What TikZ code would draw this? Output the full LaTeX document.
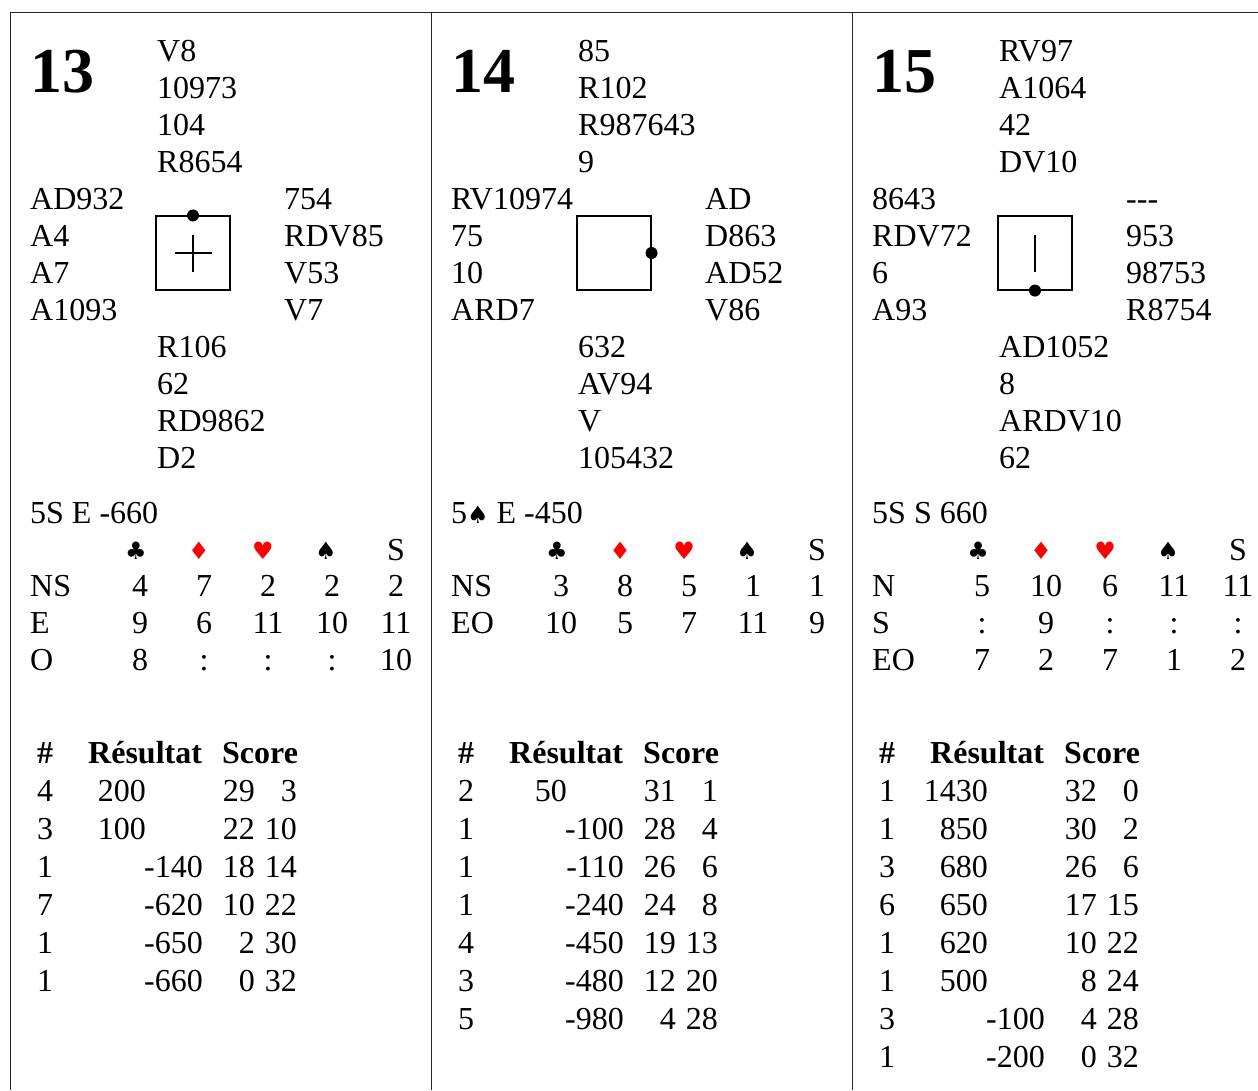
\documentclass[tikz,border=0pt]{standalone}
\usepackage{fontspec}
\setmainfont{Liberation Serif}
\newfontfamily\suitfont{DejaVu Sans}
\tikzset{
  txt/.style={anchor=base west, inner sep=0pt, font=\fontsize{32}{37}\selectfont},
  ctr/.style={anchor=base, inner sep=0pt, font=\fontsize{32}{37}\selectfont},
  rgt/.style={anchor=base east, inner sep=0pt, font=\fontsize{32}{37}\selectfont},
  hdr/.style={anchor=base west, inner sep=0pt, font=\bfseries\fontsize{32}{37}\selectfont},
  bignum/.style={anchor=base west, inner sep=0pt, font=\bfseries\fontsize{64}{64}\selectfont},
  suitf/.style={anchor=base, inner sep=0pt, font=\suitfont\fontsize{24}{24}\selectfont},
  vulbox/.style={draw, line width=1.1pt, minimum size=74pt, inner sep=0pt},
  frame/.style={line width=1pt, black!85},
  boxmark/.style={line width=1.1pt}
}
\newcommand\handlist[4]{\foreach \t [count=\i] in {#4} {\node[txt] (#1\i) at (#2,{#3+37*(\i-1)}) {\t};}}
\newcommand\distrow[8]{%
  \node[txt] (#1l) at (30,#2) {#3};
  \node[ctr] (#1a) at (140,#2) {#4};
  \node[ctr] (#1b) at (204,#2) {#5};
  \node[ctr] (#1c) at (268,#2) {#6};
  \node[ctr] (#1d) at (332,#2) {#7};
  \node[ctr] (#1e) at (396,#2) {#8};}
\newcommand\suitrow[1]{%
  \node[suitf] (#1sc) at (136,559) {♣};
  \node[suitf, text=red] (#1sd) at (199,559) {♦};
  \node[suitf, text=red] (#1sh) at (263,559) {♥};
  \node[suitf] (#1ss) at (326,559) {♠};
  \node[ctr] (#1nt) at (396,560) {S};}
\newcommand\reshead[1]{%
  \node[hdr] (#1h1) at (37,763) {\#};
  \node[hdr] (#1h2) at (88,763) {Résultat};
  \node[hdr] (#1h3) at (222,763) {Score};}
\newcommand\resrow[7]{%
  \node[txt] (#1n) at (37,#2) {#3};
  \node[rgt] (#1p) at (146,#2) {#4};
  \node[rgt] (#1m) at (203,#2) {#5};
  \node[rgt] (#1s) at (255,#2) {#6};
  \node[rgt] (#1t) at (297,#2) {#7};}
\begin{document}
\begin{tikzpicture}[x=1pt,y=-1pt]
\useasboundingbox (0,0) rectangle (1258,1090);
% frame
\coordinate (ftl) at (10,12);
\coordinate (ftr) at (1258,12);
\coordinate (fb1) at (10,1090);
\coordinate (ft2) at (431,12);
\coordinate (fb2) at (431,1090);
\coordinate (ft3) at (852,12);
\coordinate (fb3) at (852,1090);
\draw[frame] (fb1) -- (ftl) -- (ftr);
\draw[frame] (ft2) -- (fb2);
\draw[frame] (ft3) -- (fb3);

% ================= Panel 13
\begin{scope}
\node[bignum] (a13) at (30,92) {13};
\handlist{aN}{157}{61}{V8,10973,104,R8654}
\handlist{aW}{30}{209}{AD932,A4,A7,A1093}
\handlist{aE}{284}{209}{754,RDV85,V53,V7}
\handlist{aS}{157}{357}{R106,62,RD9862,D2}
\node[vulbox] (abox) at (193,253) {};
\fill (abox.north) circle (6pt);
\draw[boxmark] ([xshift=-18.5pt]abox.center) -- ([xshift=18.5pt]abox.center);
\draw[boxmark] ([yshift=-18.5pt]abox.center) -- ([yshift=18.5pt]abox.center);
\node[txt] (acon) at (30,523) {5S E -660};
\suitrow{a}
\distrow{ar1}{596}{NS}{4}{7}{2}{2}{2}
\distrow{ar2}{633}{E}{9}{6}{11}{10}{11}
\distrow{ar3}{670}{O}{8}{:}{:}{:}{10}
\reshead{a}
\resrow{ax1}{801}{4}{200}{}{29}{3}
\resrow{ax2}{839}{3}{100}{}{22}{10}
\resrow{ax3}{877}{1}{}{-140}{18}{14}
\resrow{ax4}{915}{7}{}{-620}{10}{22}
\resrow{ax5}{953}{1}{}{-650}{2}{30}
\resrow{ax6}{991}{1}{}{-660}{0}{32}
\end{scope}

% ================= Panel 14
\begin{scope}[xshift=421pt]
\node[bignum] (b14) at (30,92) {14};
\handlist{bN}{157}{61}{85,R102,R987643,9}
\handlist{bW}{30}{209}{RV10974,75,10,ARD7}
\handlist{bE}{284}{209}{AD,D863,AD52,V86}
\handlist{bS}{157}{357}{632,AV94,V,105432}
\node[vulbox] (bbox) at (193,253) {};
\fill (bbox.east) circle (6pt);
\node[txt] (bcon) at (30,523) {5{\suitfont\fontsize{24}{24}\selectfont ♠} E -450};
\suitrow{b}
\distrow{br1}{596}{NS}{3}{8}{5}{1}{1}
\distrow{br2}{633}{EO}{10}{5}{7}{11}{9}
\reshead{b}
\resrow{bx1}{801}{2}{50}{}{31}{1}
\resrow{bx2}{839}{1}{}{-100}{28}{4}
\resrow{bx3}{877}{1}{}{-110}{26}{6}
\resrow{bx4}{915}{1}{}{-240}{24}{8}
\resrow{bx5}{953}{4}{}{-450}{19}{13}
\resrow{bx6}{991}{3}{}{-480}{12}{20}
\resrow{bx7}{1029}{5}{}{-980}{4}{28}
\end{scope}

% ================= Panel 15
\begin{scope}[xshift=842pt]
\node[bignum] (c15) at (30,92) {15};
\handlist{cN}{157}{61}{RV97,A1064,42,DV10}
\handlist{cW}{30}{209}{8643,RDV72,6,A93}
\handlist{cE}{284}{209}{-{}-{}-,953,98753,R8754}
\handlist{cS}{157}{357}{AD1052,8,ARDV10,62}
\node[vulbox] (cbox) at (193,253) {};
\fill (cbox.south) circle (6pt);
\draw[boxmark] ([yshift=-18.5pt]cbox.center) -- ([yshift=18.5pt]cbox.center);
\node[txt] (ccon) at (30,523) {5S S 660};
\suitrow{c}
\distrow{cr1}{596}{N}{5}{10}{6}{11}{11}
\distrow{cr2}{633}{S}{:}{9}{:}{:}{:}
\distrow{cr3}{670}{EO}{7}{2}{7}{1}{2}
\reshead{c}
\resrow{cx1}{801}{1}{1430}{}{32}{0}
\resrow{cx2}{839}{1}{850}{}{30}{2}
\resrow{cx3}{877}{3}{680}{}{26}{6}
\resrow{cx4}{915}{6}{650}{}{17}{15}
\resrow{cx5}{953}{1}{620}{}{10}{22}
\resrow{cx6}{991}{1}{500}{}{8}{24}
\resrow{cx7}{1029}{3}{}{-100}{4}{28}
\resrow{cx8}{1067}{1}{}{-200}{0}{32}
\end{scope}
\end{tikzpicture}
\end{document}
